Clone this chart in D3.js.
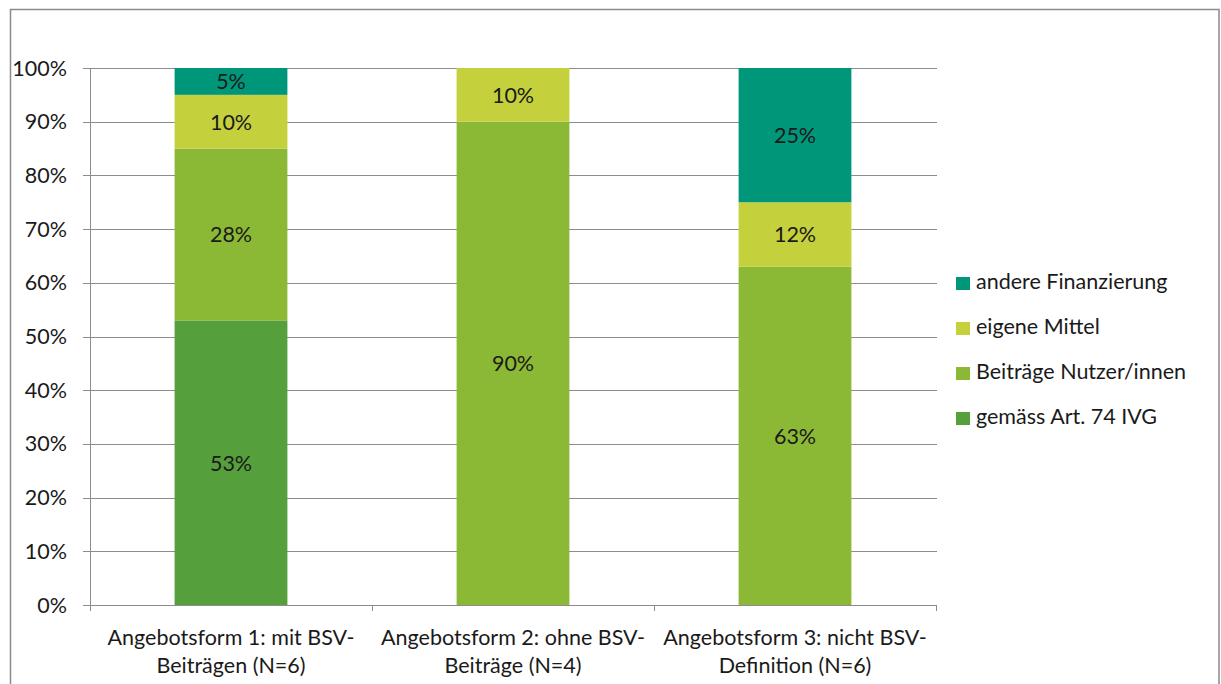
<!DOCTYPE html>
<html><head><meta charset="utf-8">
<script src="https://cdn.jsdelivr.net/npm/d3@7"></script>
<style>body{margin:0;background:#fff}svg{display:block}text{font-family:Lato,"Open Sans",sans-serif;fill:#1a1a1a}</style>
</head><body>
<svg id="c" width="1221" height="684"></svg>
<script>
const categories = [["Angebotsform 1: mit BSV-","Beiträgen (N=6)"],["Angebotsform 2: ohne BSV-","Beiträge (N=4)"],["Angebotsform 3: nicht BSV-","Definition (N=6)"]];
const seriesNames = ["gemäss Art. 74 IVG","Beiträge Nutzer/innen","eigene Mittel","andere Finanzierung"];
const seriesColors = ["#55a03c","#8cb935","#c4d13c","#00967a"];
// segment heights as drawn (percent)
const gemaess = [53, 0, 0];
const beitraege = [32, 90, 63];
const eigene = [10, 10, 12];
const andere = [5, 0, 25];
// printed labels
const gemaessLbl = ["53%", "", ""];
const beitraegeLbl = ["28%", "90%", "63%"];
const eigeneLbl = ["10%", "10%", "12%"];
const andereLbl = ["5%", "", "25%"];
const yTicks = [0,10,20,30,40,50,60,70,80,90,100];

const FS = 21.5;
const svg = d3.select("#c");
svg.append("rect").attr("x",10.5).attr("y",9.5).attr("width",1208.5).attr("height",690).attr("fill","none").attr("stroke","#8a8a8a").attr("stroke-width",1.5);

const L=90, R=936, T=68, B=605;
const x = d3.scaleBand().domain([0,1,2]).range([L,R]).paddingInner(0.6).paddingOuter(0.3);
const y = d3.scaleLinear().domain([0,100]).range([B,T]);

// gridlines
svg.append("g").selectAll("line").data(yTicks.filter(d=>d>0)).join("line")
  .attr("x1",L-7).attr("x2",R+1).attr("y1",d=>Math.round(y(d))+0.5).attr("y2",d=>Math.round(y(d))+0.5)
  .attr("stroke","#8c8c8c").attr("stroke-width",1);

const series = [gemaess, beitraege, eigene, andere];
const labels = [gemaessLbl, beitraegeLbl, eigeneLbl, andereLbl];
const g = svg.append("g");
[0,1,2].forEach(i=>{
  let cum=0;
  series.forEach((s,k)=>{
    const v=s[i]; if(!v){return;}
    const y0=y(cum), y1=y(cum+v);
    g.append("rect").attr("x",x(i)).attr("width",x.bandwidth()).attr("y",y1).attr("height",y0-y1).attr("fill",seriesColors[k]);
    if(labels[k][i]) g.append("text").attr("x",x(i)+x.bandwidth()/2).attr("y",(y0+y1)/2+8).attr("text-anchor","middle").attr("font-size",FS).text(labels[k][i]);
    cum+=v;
  });
});

// y axis
const ya = svg.append("g");
ya.append("line").attr("x1",L+0.5).attr("x2",L+0.5).attr("y1",T).attr("y2",B+6).attr("stroke","#8c8c8c");
ya.selectAll("line.t").data(yTicks).join("line").attr("class","t").attr("x1",L-7).attr("x2",L).attr("y1",d=>Math.round(y(d))+0.5).attr("y2",d=>Math.round(y(d))+0.5).attr("stroke","#8c8c8c");
ya.selectAll("text").data(yTicks).join("text").attr("x",L-23).attr("y",d=>y(d)+7.5).attr("text-anchor","end").attr("font-size",FS).text(d=>d+"%");

// x axis
const xa = svg.append("g");
xa.append("line").attr("x1",L).attr("x2",R+1).attr("y1",B+0.5).attr("y2",B+0.5).attr("stroke","#8c8c8c");
const step = x.step();
xa.selectAll("line.t").data([0,1,2,3]).join("line").attr("class","t").attr("x1",d=>L+0.5+d*step).attr("x2",d=>L+0.5+d*step).attr("y1",B).attr("y2",B+6).attr("stroke","#8c8c8c");
categories.forEach((c,i)=>{
  const cx = x(i)+x.bandwidth()/2;
  c.forEach((line,j)=>{
    xa.append("text").attr("x",cx).attr("y",645+j*28).attr("text-anchor","middle").attr("font-size",FS).text(line);
  });
});

// legend
const leg = svg.append("g");
const order=[3,2,1,0];
order.forEach((k,r)=>{
  const top = 277 + r*45;
  leg.append("rect").attr("x",956).attr("y",top).attr("width",14).attr("height",13).attr("fill",seriesColors[k]);
  leg.append("text").attr("x",976).attr("y",top+12).attr("font-size",FS).text(seriesNames[k]);
});
</script>
</body></html>
